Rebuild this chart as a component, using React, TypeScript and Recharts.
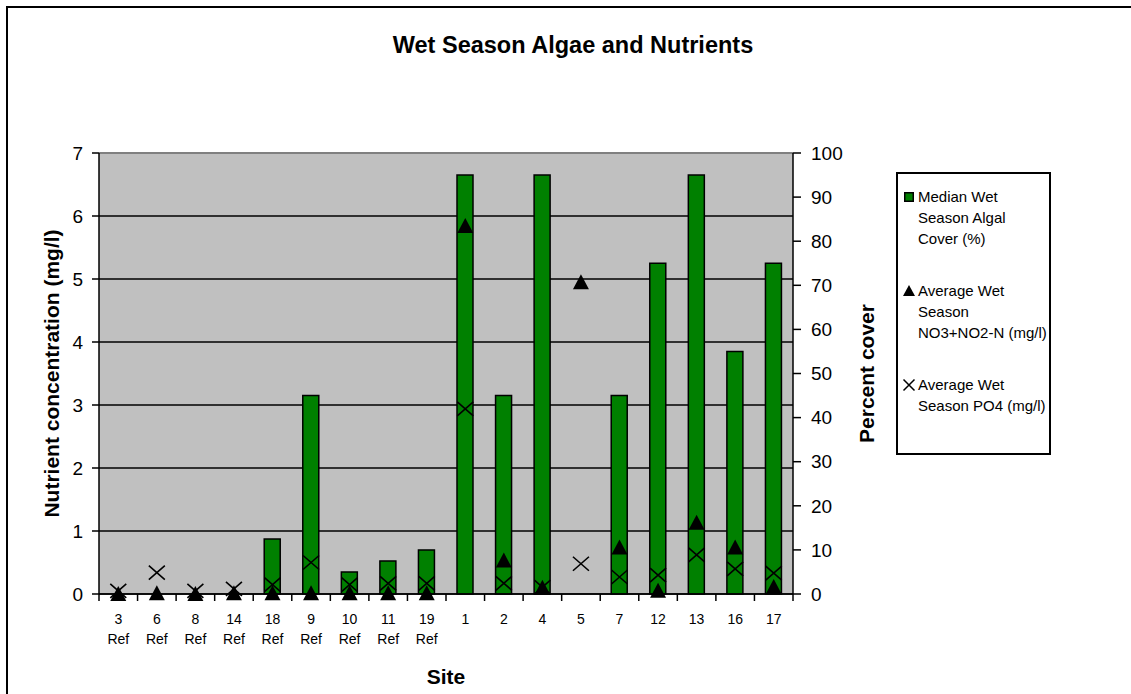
import React from 'react';
import {
  ComposedChart,
  Bar,
  Line,
  XAxis,
  YAxis,
  CartesianGrid,
  ReferenceLine,
  Legend,
} from 'recharts';

// ---------- data ----------
const sites = ['3', '6', '8', '14', '18', '9', '10', '11', '19', '1', '2', '4', '5', '7', '12', '13', '16', '17'];
const siteSubLabels = ['Ref', 'Ref', 'Ref', 'Ref', 'Ref', 'Ref', 'Ref', 'Ref', 'Ref', '', '', '', '', '', '', '', '', ''];
const algalCover = [0, 0, 0, 0, 12.5, 45, 5, 7.5, 10, 95, 45, 95, 0, 45, 75, 95, 55, 75];
const nitrate = [0, 0.01, 0, 0.01, 0.01, 0.01, 0.01, 0.01, 0.01, 5.84, 0.53, 0.1, 4.95, 0.74, 0.05, 1.13, 0.74, 0.11];
const phosphate = [0.05, 0.34, 0.05, 0.08, 0.15, 0.5, 0.15, 0.17, 0.17, 2.94, 0.17, 0.11, 0.48, 0.27, 0.3, 0.62, 0.4, 0.33];
const leftTicks = [0, 1, 2, 3, 4, 5, 6, 7];
const rightTicks = [0, 10, 20, 30, 40, 50, 60, 70, 80, 90, 100];

const chartTitle = 'Wet Season Algae and Nutrients';
const leftTitle = 'Nutrient concentration (mg/l)';
const rightTitle = 'Percent cover';
const xTitle = 'Site';
const legendAlgae = ['Median Wet', 'Season Algal', 'Cover (%)'];
const legendNitrate = ['Average Wet', 'Season', 'NO3+NO2-N (mg/l)'];
const legendPhosphate = ['Average Wet', 'Season PO4 (mg/l)'];

const data = sites.map((s, i) => ({
  site: s,
  sub: siteSubLabels[i],
  cover: algalCover[i],
  no3: nitrate[i],
  po4: phosphate[i],
}));

const FONT = '"Liberation Sans", Arial, Helvetica, sans-serif';
const GREEN = '#008000';

// ---------- markers ----------
const TriangleDot = (props: any) => {
  const { cx, cy, index } = props;
  if (cx == null || cy == null) return <g key={`tn-${index}`} />;
  return (
    <path
      key={`t-${index}`}
      d={`M${cx},${cy - 8} L${cx + 8},${cy + 7} L${cx - 8},${cy + 7} Z`}
      fill="#000"
    />
  );
};

const CrossDot = (props: any) => {
  const { cx, cy, index } = props;
  if (cx == null || cy == null) return <g key={`xn-${index}`} />;
  return (
    <path
      key={`x-${index}`}
      d={`M${cx - 8},${cy - 7} L${cx + 8},${cy + 7} M${cx - 8},${cy + 7} L${cx + 8},${cy - 7}`}
      stroke="#000"
      strokeWidth={1.6}
      fill="none"
    />
  );
};

// ---------- axis ticks ----------
const SiteTick = (props: any) => {
  const { x, y, payload, index, width } = props;
  const half = payload && payload.offset ? payload.offset : width / sites.length / 2;
  const d = data[index] || { site: payload.value, sub: '' };
  return (
    <g>
      <line x1={x - half} y1={y} x2={x - half} y2={y + 7} stroke="#000" strokeWidth={1.5} />
      {index === sites.length - 1 && (
        <line x1={x + half} y1={y} x2={x + half} y2={y + 7} stroke="#000" strokeWidth={1.5} />
      )}
      <text x={x} y={y + 30} textAnchor="middle" fontFamily={FONT} fontSize={14} fill="#000">
        {d.site}
      </text>
      {d.sub && (
        <text x={x} y={y + 50} textAnchor="middle" fontFamily={FONT} fontSize={14} fill="#000">
          {d.sub}
        </text>
      )}
    </g>
  );
};

// ---------- axis titles ----------
const LeftTitle = (props: any) => {
  const vb = props.viewBox || { x: 0, y: 153, width: 99, height: 441 };
  const cx = vb.x + 51;
  const cy = vb.y + vb.height / 2;
  return (
    <text
      x={cx}
      y={cy}
      transform={`rotate(-90, ${cx}, ${cy})`}
      textAnchor="middle"
      dominantBaseline="central"
      fontFamily={FONT}
      fontWeight="bold"
      fontSize={21}
      fill="#000"
    >
      {leftTitle}
    </text>
  );
};

const RightTitle = (props: any) => {
  const vb = props.viewBox || { x: 793, y: 153, width: 80, height: 441 };
  const cx = vb.x + 73.5;
  const cy = vb.y + vb.height / 2;
  return (
    <text
      x={cx}
      y={cy}
      transform={`rotate(-90, ${cx}, ${cy})`}
      textAnchor="middle"
      dominantBaseline="central"
      fontFamily={FONT}
      fontWeight="bold"
      fontSize={21}
      fill="#000"
    >
      {rightTitle}
    </text>
  );
};

const BottomTitle = (props: any) => {
  const vb = props.viewBox || { x: 99, y: 594, width: 694, height: 60 };
  return (
    <text
      x={vb.x + vb.width / 2}
      y={vb.y + 90}
      textAnchor="middle"
      fontFamily={FONT}
      fontWeight="bold"
      fontSize={21}
      fill="#000"
    >
      {xTitle}
    </text>
  );
};

// ---------- legend ----------
const LegendBox = () => {
  const lineH = 21;
  const item = (lines: string[], icon: React.ReactNode, first: boolean) => (
    <div style={{ position: 'relative', marginTop: first ? 0 : 31 }}>
      <div style={{ position: 'absolute', left: 0, top: 0, width: 20, height: lineH, display: 'flex', alignItems: 'center', justifyContent: 'center' }}>
        {icon}
      </div>
      {lines.map((l, i) => (
        <div key={i} style={{ paddingLeft: 19, height: lineH, lineHeight: `${lineH}px`, whiteSpace: 'nowrap' }}>
          {l}
        </div>
      ))}
    </div>
  );
  return (
    <div
      style={{
        width: 155,
        height: 283,
        boxSizing: 'border-box',
        border: '2px solid #000',
        background: '#fff',
        padding: '12px 0 0 1px',
        fontFamily: FONT,
        fontSize: 15,
        color: '#000',
        textAlign: 'left',
      }}
    >
      {item(
        legendAlgae,
        <svg width={12} height={12}>
          <rect x={1.75} y={1.75} width={8.5} height={8.5} fill={GREEN} stroke="#000" strokeWidth={1.5} />
        </svg>,
        true
      )}
      {item(
        legendNitrate,
        <svg width={14} height={14}>
          <path d="M7,1 L13,12 L1,12 Z" fill="#000" />
        </svg>,
        false
      )}
      {item(
        legendPhosphate,
        <svg width={14} height={14}>
          <path d="M1.5,1.5 L12.5,12.5 M1.5,12.5 L12.5,1.5" stroke="#000" strokeWidth={1.5} />
        </svg>,
        false
      )}
    </div>
  );
};

export default function App() {
  return (
    <div style={{ position: 'absolute', left: 0, top: 0, width: 1131, height: 694, background: '#fff', overflow: 'hidden' }}>
      <div
        style={{
          position: 'absolute',
          left: 6,
          top: 6,
          right: -10,
          bottom: -10,
          borderTop: '2px solid #000',
          borderLeft: '2px solid #000',
        }}
      />
      <svg width={1131} height={80} style={{ position: 'absolute', left: 0, top: 0 }}>
        <text x={573} y={53} textAnchor="middle" fontFamily={FONT} fontWeight="bold" fontSize={23.5} fill="#000">
          {chartTitle}
        </text>
      </svg>
      <div style={{ position: 'absolute', left: 0, top: 0 }}>
        <ComposedChart
          width={1131}
          height={694}
          data={data}
          margin={{ top: 153, right: 258, bottom: 40, left: 0 }}
          barSize={16}
        >
          <CartesianGrid
            yAxisId="left"
            vertical={false}
            stroke="#000"
            strokeWidth={1.4}
            fill="#C0C0C0"
            fillOpacity={1}
          />
          <XAxis
            dataKey="site"
            height={60}
            interval={0}
            tickLine={false}
            tickSize={0}
            tickMargin={0}
            axisLine={{ stroke: '#000', strokeWidth: 1.5 }}
            tick={<SiteTick />}
            label={BottomTitle}
          />
          <YAxis
            yAxisId="left"
            orientation="left"
            width={99}
            domain={[0, 7]}
            ticks={leftTicks}
            interval={0}
            tickSize={7}
            tickMargin={9}
            axisLine={{ stroke: '#000', strokeWidth: 1.5 }}
            tickLine={{ stroke: '#000', strokeWidth: 1.5 }}
            tick={{ fill: '#000', fontSize: 19, fontFamily: FONT }}
            label={LeftTitle}
          />
          <YAxis
            yAxisId="right"
            orientation="right"
            width={80}
            domain={[0, 100]}
            ticks={rightTicks}
            interval={0}
            tickSize={8}
            tickMargin={10}
            axisLine={{ stroke: '#000', strokeWidth: 1.5 }}
            tickLine={{ stroke: '#000', strokeWidth: 1.5 }}
            tick={{ fill: '#000', fontSize: 19, fontFamily: FONT }}
            label={RightTitle}
          />
          <ReferenceLine yAxisId="left" y={7} stroke="#808080" strokeWidth={2} />
          <Legend
            layout="vertical"
            align="center"
            verticalAlign="middle"
            content={<LegendBox />}
            wrapperStyle={{ left: 896, top: 172, width: 155, height: 283 }}
          />
          <Bar
            yAxisId="right"
            dataKey="cover"
            fill={GREEN}
            stroke="#000"
            strokeWidth={1.5}
            isAnimationActive={false}
          />
          <Line
            yAxisId="left"
            dataKey="no3"
            stroke="none"
            dot={TriangleDot}
            activeDot={false}
            isAnimationActive={false}
          />
          <Line
            yAxisId="left"
            dataKey="po4"
            stroke="none"
            dot={CrossDot}
            activeDot={false}
            isAnimationActive={false}
          />
        </ComposedChart>
      </div>
    </div>
  );
}
